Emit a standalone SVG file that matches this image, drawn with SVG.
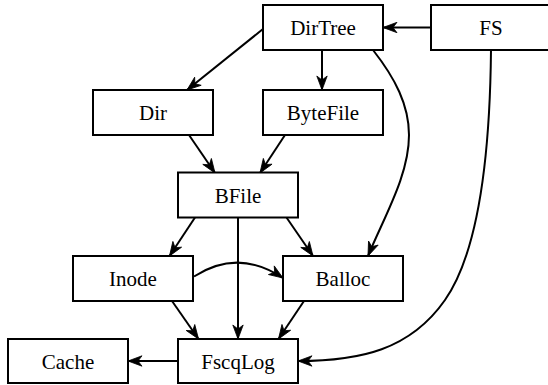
<svg xmlns="http://www.w3.org/2000/svg" width="548" height="385" viewBox="0 0 548 385">
<style>
.n rect{fill:#fff;stroke:#000;stroke-width:2}
.n text{font-family:"Liberation Serif","Times New Roman",serif;font-size:21px;text-anchor:middle;fill:#000}
.e path{fill:none;stroke:#000;stroke-width:2;marker-end:url(#ah)}
</style>
<defs>
<marker id="ah" markerUnits="userSpaceOnUse" markerWidth="16" markerHeight="12" viewBox="0 0 16 12" refX="15" refY="6" orient="auto">
<path d="M1,0.8 L15,6 L1,11.2 L5,6 Z" fill="#000" stroke="#000" stroke-width="0.8" stroke-linejoin="miter"/>
</marker>
</defs>
<rect width="548" height="385" fill="#fff"/>
<g id="edges" class="e">
<path d="M431,27.5 L383,27.5"/>
<path d="M263,29 L187,90"/>
<path d="M322,50 L322,90"/>
<path d="M373,50 C395,78 409,105 409,135 C409,175 385,215 368,256"/>
<path d="M491,50 C490,150 480,250 445,300 C410,350 360,361 298,361"/>
<path d="M189,135 L215,173"/>
<path d="M285,135 L260,173"/>
<path d="M195,217.5 L169.5,256"/>
<path d="M238,217.5 L238,339"/>
<path d="M286.5,217.5 L313,256"/>
<path d="M194,276.5 Q238,248 283,278"/>
<path d="M172,301 L198.5,339"/>
<path d="M304,301 L278.5,339"/>
<path d="M178,361 L128,361"/>
</g>
<g id="DirTree" class="n"><rect x="263" y="5" width="120" height="45"/><text x="323" y="35">DirTree</text></g>
<g id="FS" class="n"><rect x="431" y="5" width="120" height="45"/><text x="491" y="35">FS</text></g>
<g id="Dir" class="n"><rect x="93" y="90" width="120" height="45"/><text x="153" y="120">Dir</text></g>
<g id="ByteFile" class="n"><rect x="263" y="90" width="120" height="45"/><text x="323" y="120">ByteFile</text></g>
<g id="BFile" class="n"><rect x="178" y="172.5" width="120" height="45"/><text x="238" y="202.5">BFile</text></g>
<g id="Inode" class="n"><rect x="73" y="256" width="120" height="45"/><text x="133" y="286">Inode</text></g>
<g id="Balloc" class="n"><rect x="283" y="256" width="120" height="45"/><text x="343" y="286">Balloc</text></g>
<g id="Cache" class="n"><rect x="8" y="339" width="120" height="44"/><text x="68" y="369">Cache</text></g>
<g id="FscqLog" class="n"><rect x="178" y="339" width="120" height="44"/><text x="238" y="369">FscqLog</text></g>
</svg>
